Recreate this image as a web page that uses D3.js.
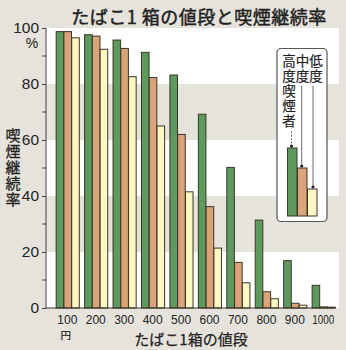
<!DOCTYPE html>
<html>
<head>
<meta charset="utf-8">
<script src="https://cdn.jsdelivr.net/npm/d3@7/dist/d3.min.js"></script>
<style>
  html, body { margin: 0; padding: 0; background: #e6e3dc; }
  svg { display: block; }
  .num { font-family: "Liberation Sans", "DejaVu Sans", sans-serif; }
  .jp { font-family: "Noto Sans CJK JP", "Noto Sans", sans-serif; }
  .vert { writing-mode: vertical-rl; text-orientation: upright; }
</style>
</head>
<body>
<svg id="chart" width="346" height="350"></svg>
<script>
// Price of one pack (yen) and share still smoking (%) by smoker type
const prices = ["100", "200", "300", "400", "500", "600", "700", "800", "900", "1000"];
const heavy  = [98.7, 97.6, 95.7, 91.3, 83.2, 69.2, 50.2, 31.4, 16.9, 8.1];
const medium = [98.7, 97.1, 92.7, 82.3, 62.0, 36.2, 16.3, 5.8, 1.7, 0.4];
const light  = [96.5, 92.4, 82.6, 65.0, 41.5, 21.4, 9.0, 3.3, 1.0, 0.3];
const seriesNames = ["高度喫煙者", "中度", "低度"];
const yTicks = [0, 20, 40, 60, 80, 100];
const yMinorTicks = [10, 30, 50, 70, 90];

const colors = ["#5e9a5d", "#dba379", "#fdf7c2"];
const outline = "#3a3628";
const ink = "#222";

const svg = d3.select("#chart");

const y = d3.scaleLinear().domain([0, 100]).range([308, 28]);
const x = d3.scaleBand().domain(prices).range([53.1, 337.5]).paddingInner(0.18).paddingOuter(0.09);
const xs = d3.scaleBand().domain([0, 1, 2]).range([0, x.bandwidth()]);

// background bands: white stripes over the grey page
const plotLeft = 46, plotRight = 339;
const bands = [[80, 100], [40, 60], [0, 20]];
svg.append("g").selectAll("rect").data(bands).join("rect")
  .attr("x", plotLeft).attr("width", plotRight - plotLeft)
  .attr("y", d => y(d[1])).attr("height", d => y(d[0]) - y(d[1]))
  .attr("fill", "#ffffff");

// bars
const series = [heavy, medium, light];
const groups = svg.append("g").selectAll("g").data(prices).join("g")
  .attr("transform", d => `translate(${x(d)},0)`);
groups.selectAll("rect").data((p, i) => series.map((s, k) => ({ k, v: s[i] }))).join("rect")
  .attr("x", d => xs(d.k) + 0.5)
  .attr("width", xs.bandwidth() - 0.2)
  .attr("y", d => y(d.v))
  .attr("height", d => y(0) - y(d.v))
  .attr("fill", d => colors[d.k])
  .attr("stroke", outline)
  .attr("stroke-width", 1);

// baseline
svg.append("line").attr("x1", plotLeft).attr("x2", x(prices[prices.length - 1]) + x.bandwidth() + 1)
  .attr("y1", y(0)).attr("y2", y(0)).attr("stroke", outline).attr("stroke-width", 1.2);

// y axis
const yAxis = d3.axisLeft(y).tickValues(yTicks).tickSize(4).tickPadding(3);
const gy = svg.append("g").attr("transform", `translate(${plotLeft},0)`).call(yAxis);
gy.select(".domain").attr("stroke", "#444").attr("d", `M-0,${y(0)}V${y(100)}`);
gy.selectAll(".tick line").attr("stroke", "#444");
gy.selectAll(".tick text").attr("class", "num").attr("font-size", 15).attr("fill", ink)
  .attr("textLength", d => String(d).length * 8.6).attr("lengthAdjust", "spacingAndGlyphs");
gy.append("g").selectAll("line").data(yMinorTicks).join("line")
  .attr("x1", -4).attr("x2", 0).attr("y1", d => y(d)).attr("y2", d => y(d)).attr("stroke", "#444");

svg.append("text").attr("class", "num").attr("x", 32).attr("y", 48)
  .attr("text-anchor", "middle").attr("font-size", 14).attr("fill", ink).text("%");

// x labels
svg.append("g").selectAll("text").data(prices).join("text")
  .attr("class", "num")
  .attr("x", d => x(d) + x.bandwidth() / 2 - (d.length > 3 ? 11 : 10))
  .attr("y", 323.8)
  .attr("font-size", 13.5).attr("fill", ink)
  .attr("textLength", d => d.length > 3 ? 22 : 20)
  .attr("lengthAdjust", "spacingAndGlyphs")
  .text(d => d);
svg.append("text").attr("class", "jp").attr("x", x("100") + x.bandwidth() / 2 - 1.5).attr("y", 339)
  .attr("text-anchor", "middle").attr("font-size", 10.5).attr("fill", ink)
  .attr("stroke", ink).attr("stroke-width", 0.2).text("円");

svg.append("text").attr("class", "jp").attr("x", 191).attr("y", 345)
  .attr("text-anchor", "middle").attr("font-size", 15).attr("fill", ink)
  .attr("stroke", ink).attr("stroke-width", 0.25)
  .text("たばこ1箱の値段");

// title
svg.append("text").attr("class", "jp").attr("x", 199).attr("y", 24)
  .attr("text-anchor", "middle").attr("font-size", 18).attr("letter-spacing", 0.5).attr("fill", ink)
  .attr("stroke", ink).attr("stroke-width", 0.45)
  .text("たばこ1 箱の値段と喫煙継続率");

// y title, set vertically
svg.append("text").attr("class", "jp vert").attr("x", 13).attr("y", 128)
  .attr("font-size", 15).attr("letter-spacing", 1).attr("fill", ink)
  .attr("stroke", ink).attr("stroke-width", 0.3)
  .text("喫煙継続率");

// legend
const lg = svg.append("g");
lg.append("rect").attr("x", 277).attr("y", 48.5).attr("width", 50).attr("height", 173)
  .attr("rx", 4).attr("fill", "#fff").attr("stroke", "#555").attr("stroke-width", 1.2);
const colX = [289, 302.5, 316];
const lineStep = 15;
seriesNames.forEach((name, k) => {
  lg.append("text").attr("class", "jp vert").attr("x", colX[k]).attr("y", 54)
    .attr("font-size", 13.5).attr("letter-spacing", lineStep - 13.5).attr("fill", ink)
    .attr("stroke", ink).attr("stroke-width", 0.2)
    .text(name);
});
const swTop = [148, 168, 189], swX = [287, 297, 307], swW = 9.5, swBottom = 216;
const lineX = [291.5, 301.7, 313];
swTop.forEach((t, k) => {
  lg.append("rect").attr("x", swX[k] + 0.5).attr("y", t).attr("width", swW).attr("height", swBottom - t)
    .attr("fill", colors[k]).attr("stroke", outline);
  const startY = 54 + Array.from(seriesNames[k]).length * lineStep + 2;
  lg.append("line").attr("x1", lineX[k]).attr("x2", lineX[k]).attr("y1", startY).attr("y2", t - 2)
    .attr("stroke", "#444").attr("stroke-width", 0.8)
    .attr("stroke-dasharray", k === 0 ? "2,1.5" : null);
  lg.append("circle").attr("cx", lineX[k]).attr("cy", t - 2).attr("r", 1.6).attr("fill", ink);
});
</script>
</body>
</html>
